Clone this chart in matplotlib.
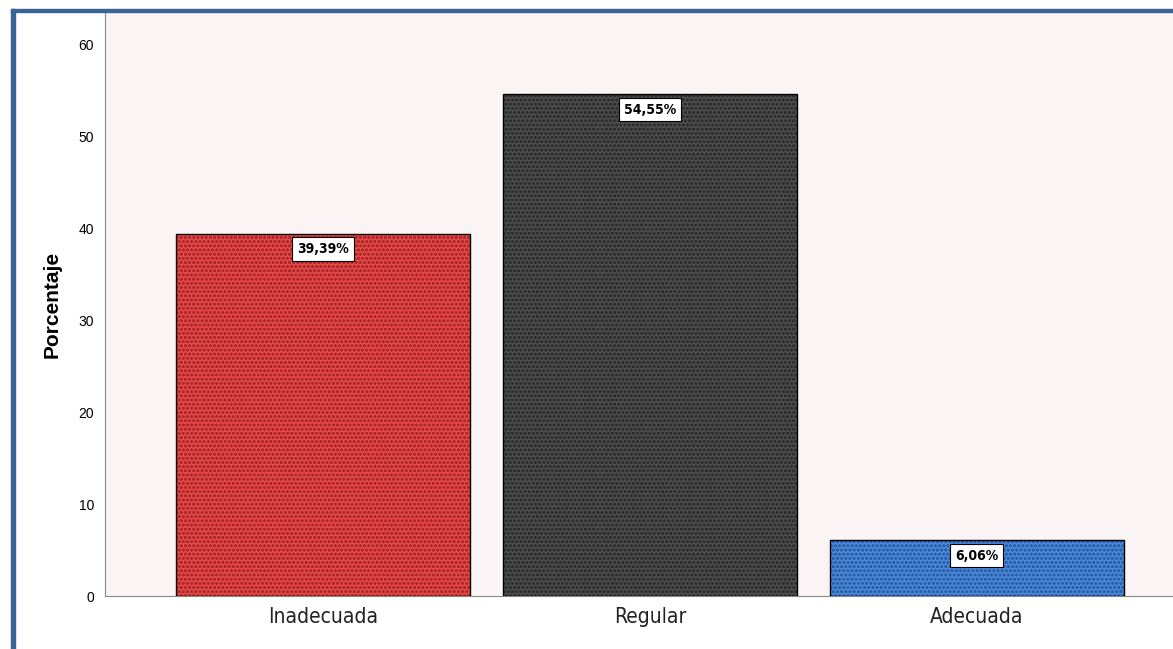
import matplotlib.pyplot as plt
from matplotlib.patches import Rectangle

categories = ["Inadecuada", "Regular", "Adecuada"]
percentages = [39.39, 54.55, 6.06]
labels = ["39,39%", "54,55%", "6,06%"]
colors = ["#ea4746", "#4d4d4d", "#4a88dc"]
hatch_colors = ["#a82a2a", "#2e2e2e", "#2d5fa6"]
yticks = [0, 10, 20, 30, 40, 50, 60]

plt.rcParams["font.family"] = ["Liberation Sans", "DejaVu Sans"]


def main():
    fig = plt.figure(figsize=(11.73, 6.49), dpi=100)
    ax = fig.add_axes([105 / 1173, 1 - 596 / 649, 1 - 105 / 1173, 584 / 649])
    ax.set_facecolor("#faf4f4")

    x = range(len(categories))
    plt.rcParams["hatch.linewidth"] = 0.8
    for i in x:
        ax.bar(i, percentages[i], width=0.9, color=colors[i], hatch="oooo",
               edgecolor=hatch_colors[i], linewidth=0, zorder=2)
    ax.bar(x, percentages, width=0.9, fill=False, edgecolor="black",
           linewidth=1, zorder=3)

    for i in x:
        ax.annotate(labels[i], (i, percentages[i]), xytext=(0, -11),
                    textcoords="offset points", ha="center", va="center",
                    fontsize=10, fontweight="bold", family="DejaVu Sans",
                    fontstretch="condensed", zorder=4,
                    bbox=dict(boxstyle="square,pad=0.35", fc="white",
                              ec="black", lw=0.8))

    ax.set_xlim(-0.667, 2.6)
    ax.set_ylim(0, 63.5)
    ax.set_yticks(yticks)
    ax.set_xticks(list(x))
    ax.set_xticklabels(categories, fontsize=15, family="DejaVu Sans",
                       fontstretch="condensed", color="#222222")
    ax.tick_params(axis="y", length=0, labelsize=10, pad=8)
    ax.tick_params(axis="x", length=0, pad=8)
    for s in ["top", "right"]:
        ax.spines[s].set_visible(False)
    ax.spines["left"].set_color("#888888")
    ax.spines["bottom"].set_color("#888888")
    ax.set_ylabel("Porcentaje", fontsize=15, fontweight="bold", labelpad=12)

    # blue frame on top and left
    fig.add_artist(Rectangle((11 / 1173, -0.1), 4 / 1173, 1.1 - 9 / 649,
                             transform=fig.transFigure, color="#3a6496",
                             clip_on=False))
    fig.add_artist(Rectangle((11 / 1173, 1 - 12 / 649), 1.1, 3 / 649,
                             transform=fig.transFigure, color="#3a6496",
                             clip_on=False))

    fig.savefig("out.png", dpi=100)


if __name__ == "__main__":
    main()
